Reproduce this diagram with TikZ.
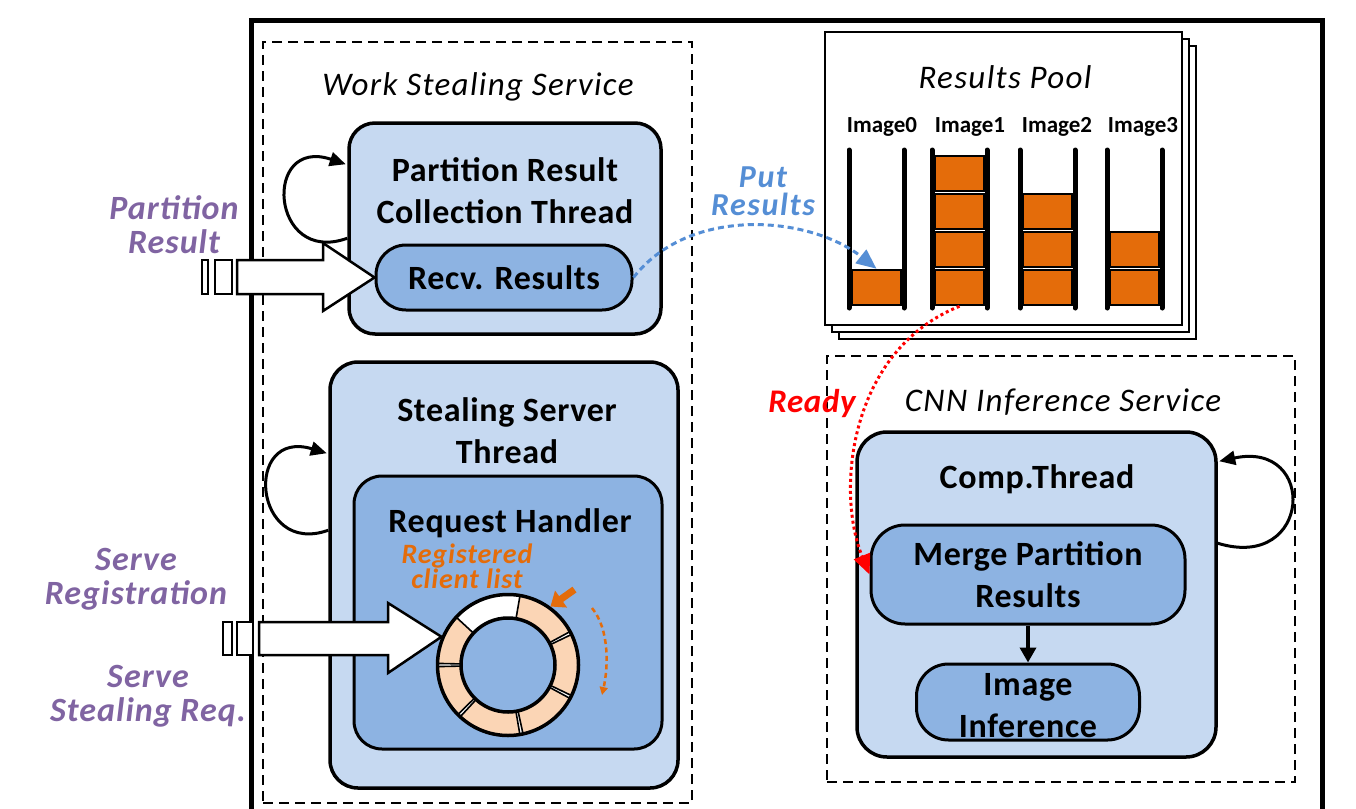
\documentclass[tikz,border=0pt]{standalone}
\usepackage{fontspec}
\setmainfont{Carlito}
\usetikzlibrary{arrows.meta,calc}
\definecolor{lblue}{HTML}{C6D9F1}
\definecolor{mblue}{HTML}{8DB3E2}
\definecolor{purp}{HTML}{8064A2}
\definecolor{bluet}{HTML}{558ED5}
\definecolor{orng}{HTML}{E46C0A}
\definecolor{peach}{HTML}{FBD5B5}
\begin{document}
\begin{tikzpicture}[x=1pt,y=1pt,
  lbox/.style={draw, line width=3.5pt, fill=lblue, rounded corners=26pt, inner sep=0pt},
  mbox/.style={draw, line width=3pt, fill=mblue, inner sep=0pt, align=center,
     font=\fontsize{34}{42}\selectfont\bfseries\addfontfeature{LetterSpace=2}},
  ttl/.style={font=\fontsize{34}{42}\selectfont\bfseries\addfontfeature{LetterSpace=2}, align=center, inner sep=0pt},
  svc/.style={font=\fontsize{33}{38}\selectfont\itshape\addfontfeature{LetterSpace=4}, inner sep=0pt},
  plabel/.style={font=\fontsize{34}{34}\selectfont\bfseries\itshape\addfontfeature{LetterSpace=3}, text=purp, align=center, inner sep=0pt},
  dbox/.style={draw, dash pattern=on 10pt off 6pt, line width=2.8pt, inner sep=0pt},
  loopar/.style={line width=3pt, -{Triangle[length=16pt,width=14pt]}},
  hollow/.style={draw, line width=2.5pt, fill=white, line join=miter},
  obox/.style={draw, line width=2.5pt, fill=orng, minimum width=50pt, minimum height=35pt, inner sep=0pt},
  rpage/.style={draw, line width=2.5pt, fill=white},
  imlabel/.style={font=\fontsize{23}{28}\selectfont\bfseries, inner sep=0pt},
]
\useasboundingbox (0,0) rectangle (1356,-808);

% outer frame
\draw[line width=5pt] (251,-830) -- (251,-21) -- (1322,-21) -- (1322,-830);

% dashed service boxes
\node[dbox, minimum width=429pt, minimum height=761pt] (wss) at (477.5,-422.5) {};
\node[dbox, minimum width=468pt, minimum height=426pt] (cnn) at (1061,-569) {};
\node[svc] (wsst) at (478,-87) {Work Stealing Service};
\node[svc] (cnnt) at (1063,-402) {CNN Inference Service};

% Partition result collection thread
\node[lbox, minimum width=312pt, minimum height=211pt] (prc) at (505,-228.5) {};
\node[ttl] (prct) at (505,-191) {Partition Result\\Collection Thread};
\node[mbox, rounded corners=30pt, minimum width=256pt, minimum height=65pt] (recv) at (504,-277.5) {Recv. Results};
\draw[loopar] ($(prc.north west)+(0,-117)$) .. controls (270,-266) and (262,-136) .. ($(prc.north west)+(-1.5,-43)$);

% Stealing server thread
\node[lbox, rounded corners=28pt, minimum width=348pt, minimum height=426pt] (stl) at (504,-575) {};
\node[ttl] (stlt) at (507,-431) {Stealing Server\\Thread};
\node[mbox, line width=3pt, rounded corners=28pt, minimum width=308pt, minimum height=273pt] (rh) at (508,-612.5) {};
\node[ttl] (rht) at (510,-523) {Request Handler};
\draw[loopar] ($(stl.north west)+(0,-170)$) .. controls (253,-557) and (243,-428) .. ($(stl.north west)+(-1.5,-93)$);

% ring buffer
\fill[white] (508,-665) circle[radius=71pt];
\begin{scope}[shift={(508,-665)}]
\foreach \a/\b in {27/81.5, 136/180, 180/226, 226/281, 281/333, 333/387}{
  \pgfmathsetmacro\sa{\a+1.3}
  \pgfmathsetmacro\sb{\b-1.3}
  \draw[fill=peach, line width=1.6pt] (\sa:70.5pt) arc[start angle=\sa, end angle=\sb, radius=70.5pt]
     -- (\sb:47pt) arc[start angle=\sb, end angle=\sa, radius=47pt] -- cycle;
}
\end{scope}
\node[circle, draw, line width=3.5pt, minimum size=141pt, inner sep=0pt] (ring) at (508,-665) {};
\node[circle, draw, line width=3.5pt, fill=mblue, minimum size=94pt, inner sep=0pt] (hub) at (508,-665) {};
\node[font=\fontsize{28}{20}\selectfont\bfseries\itshape\addfontfeature{LetterSpace=3}, text=orng, align=center, inner sep=0pt] (reg) at (467,-566) {Registered\\client list};
\draw[orng, line width=7pt, -{Triangle[length=13pt,width=20pt]}] ($(ring.54)+(24,17)$) -- (ring.54);
\draw[orng, line width=2.5pt, dash pattern=on 5pt off 3.5pt, -{Triangle[length=8pt,width=8pt]}]
  ($(ring.center)+(84,57)$) .. controls +(18,-22) and +(6,27) .. ($(ring.center)+(94,-30)$);

% hollow input arrows
\draw[hollow] (202,-260) rectangle (208,-294);
\draw[hollow] (215,-260) rectangle (232,-294);
\draw[hollow] (237,-260) -- (323,-260) -- (323,-243) -- (recv.west) -- (323,-311) -- (323,-294) -- (237,-294) -- cycle;
\draw[hollow] (223,-622) rectangle (232,-655);
\draw[hollow] (237,-622) rectangle (253,-655);
\draw[hollow] (259,-622) -- (388,-622) -- (388,-603) -- (ring.157) -- (388,-673) -- (388,-655) -- (259,-655) -- cycle;

% purple labels
\node[plabel] (pr) at (174,-225) {Partition\\Result};
\node[plabel] (sreg) at (136,-579) {Serve\\Registration};
\node[plabel] (sstl) at (148,-696) {Serve\\Stealing Req.};

% Results pool
\draw[rpage] (839,-46) rectangle (1196,-339);
\draw[rpage] (832,-39) rectangle (1189,-332);
\node[rpage, minimum width=357pt, minimum height=293pt, inner sep=0pt] (pool) at (1003.5,-178.5) {};
\node[svc] (poolt) at (1005,-77) {Results Pool};
\node[imlabel] (l0) at (882,-127) {Image0};
\node[imlabel] (l1) at (970,-127) {Image1};
\node[imlabel] (l2) at (1057,-127) {Image2};
\node[imlabel] (l3) at (1143,-127) {Image3};
\node[obox] (i0b1) at (876.5,-287.5) {};
\foreach \k in {1,...,4}{ \node[obox] (i1b\k) at (959.5,{-287.5+38*(\k-1)}) {}; }
\foreach \k in {1,...,3}{ \node[obox] (i2b\k) at (1047.5,{-287.5+38*(\k-1)}) {}; }
\foreach \k in {1,2}{ \node[obox] (i3b\k) at (1134.5,{-287.5+38*(\k-1)}) {}; }
\foreach \c in {849,932,1020,1107}{
  \draw[line width=5pt, line cap=round] (\c,-150) -- (\c,-308);
  \draw[line width=5pt, line cap=round] (\c+55,-150) -- (\c+55,-308);
}

% CNN inference service
\node[lbox, rounded corners=30pt, minimum width=359pt, minimum height=325pt] (comp) at (1036.5,-594.5) {};
\node[ttl] (compt) at (1037,-479) {Comp.Thread};
\node[mbox, rounded corners=34pt, minimum width=314pt, minimum height=99pt] (merge) at (1028,-574.5) {Merge Partition\\Results};
\node[mbox, rounded corners=32pt, minimum width=223pt, minimum height=76pt] (imginf) at (1028,-702) {};
\node[ttl] (imginft) at (1028,-706) {Image\\Inference};
\draw[line width=3.5pt, -{Triangle[length=15pt,width=16pt]}] (merge.south) -- (imginf.north);
\draw[loopar] ($(comp.north east)+(0,-113)$) .. controls (1312,-572) and (1318,-440) .. ($(comp.north east)+(1.5,-31)$);

% dashed transfers
\draw[bluet, line width=3pt, dash pattern=on 6pt off 4pt, -{Triangle[length=20pt,width=17pt]}]
  (recv.east) .. controls (690,-205) and (810,-216) .. (i0b1.north);
\node[font=\fontsize{32}{28}\selectfont\bfseries\itshape\addfontfeature{LetterSpace=5}, text=bluet, align=center, inner sep=0pt] (put) at (763,-191) {Put\\Results};
\draw[red, line width=3pt, dash pattern=on 3pt off 3pt, -{Triangle[length=20pt,width=17pt]}]
  (i1b1.south) .. controls (850,-350) and (835,-490) .. (merge.west);
\node[font=\fontsize{33}{38}\selectfont\bfseries\itshape\addfontfeature{LetterSpace=2}, text=red, inner sep=0pt] (ready) at (812,-404) {Ready};
\end{tikzpicture}
\end{document}
